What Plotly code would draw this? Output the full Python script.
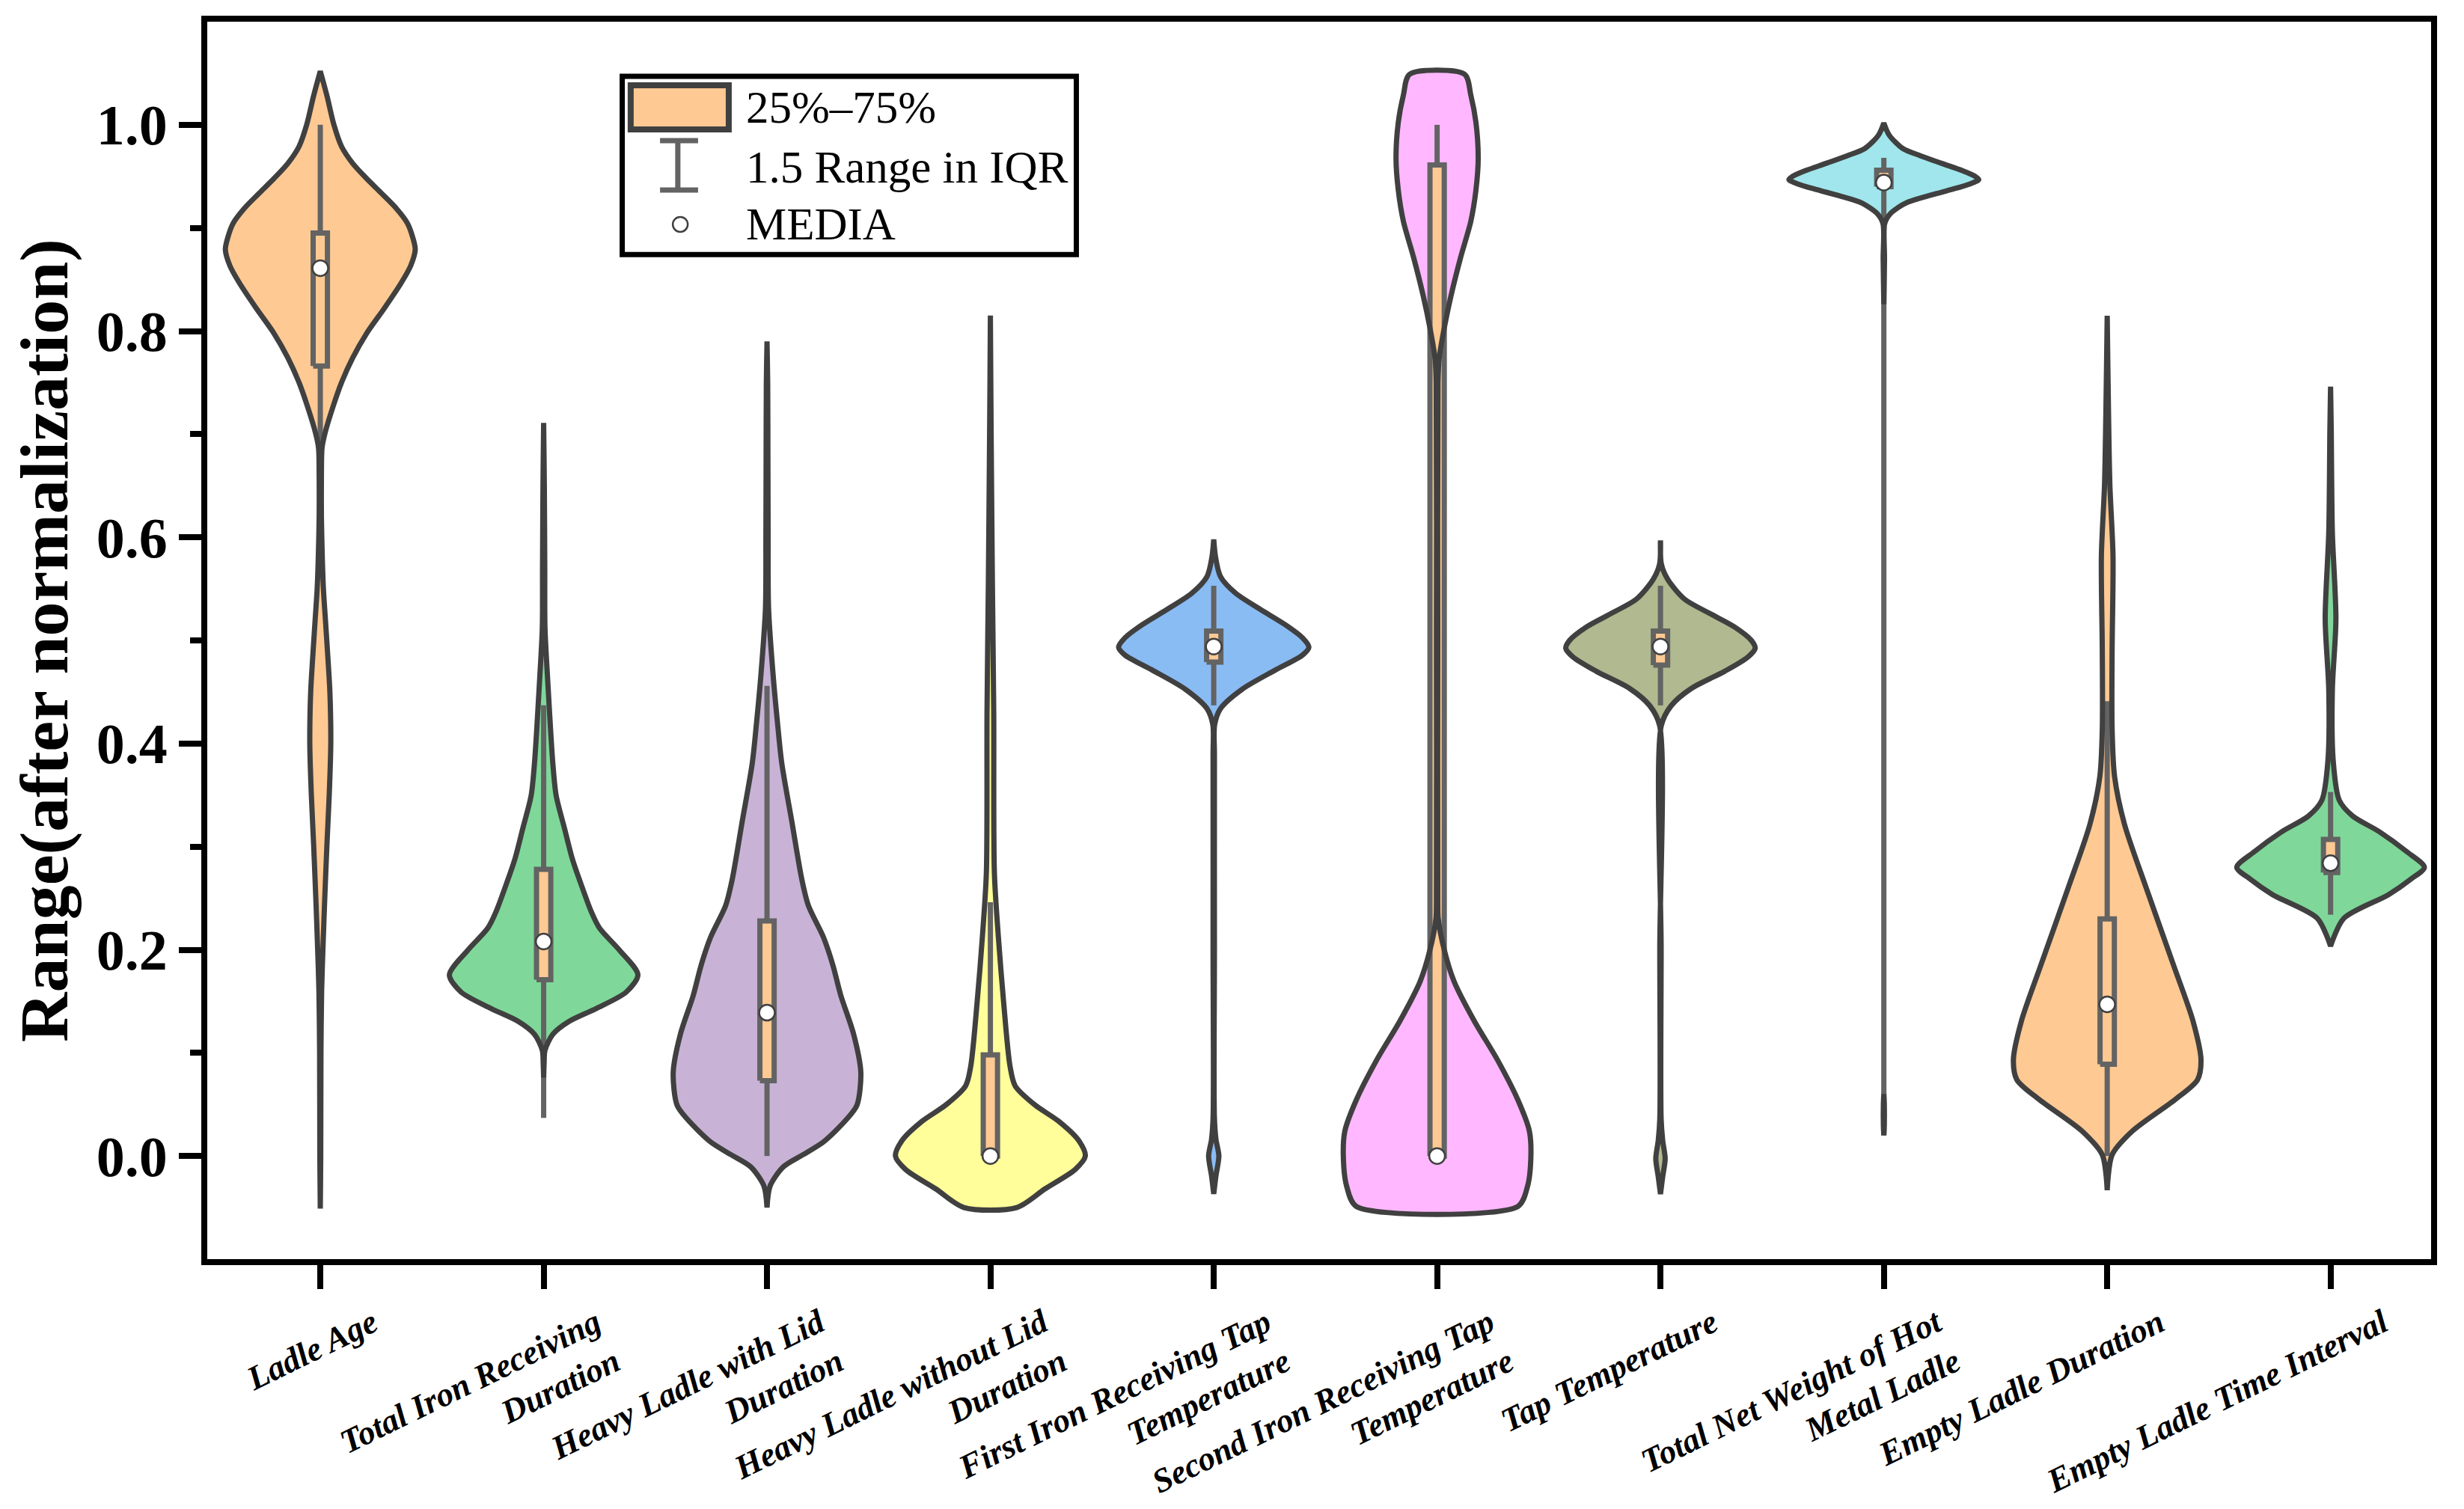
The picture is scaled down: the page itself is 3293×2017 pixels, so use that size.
import plotly.graph_objects as go

SERIF = "Liberation Serif, Times New Roman, serif"

CATEGORIES = [
    "Ladle Age",
    "Total Iron Receiving Duration",
    "Heavy Ladle with Lid Duration",
    "Heavy Ladle without Lid Duration",
    "First Iron Receiving Tap Temperature",
    "Second Iron Receiving Tap Temperature",
    "Tap Temperature",
    "Total Net Weight of Hot Metal Ladle",
    "Empty Ladle Duration",
    "Empty Ladle Time Interval",
]
TICK_TEXT = [
    "Ladle Age",
    "Total Iron Receiving<br>Duration",
    "Heavy Ladle with Lid<br>Duration",
    "Heavy Ladle without Lid<br>Duration",
    "First Iron Receiving Tap<br>Temperature",
    "Second Iron Receiving Tap<br>Temperature",
    "Tap Temperature",
    "Total Net Weight of Hot<br>Metal Ladle",
    "Empty Ladle Duration",
    "Empty Ladle Time Interval",
]
FILL_COLORS = ["#FFC993", "#7FD899", "#C8B3D6", "#FFFE9A", "#8ABCF4",
               "#FFB8FF", "#B0B98F", "#A0E6EC", "#FFC993", "#7FD899"]

# box statistics
LOWER_WHISKER = [0.575, 0.037, 0.0, 0.0, 0.437, 0.0, 0.437, 0.020, 0.0, 0.234]
Q1 = [0.766, 0.171, 0.073, 0.0, 0.479, 0.0, 0.476, 0.940, 0.089, 0.275]
MEDIAN = [0.861, 0.208, 0.139, 0.0, 0.494, 0.0, 0.494, 0.944, 0.147, 0.284]
Q3 = [0.895, 0.278, 0.228, 0.098, 0.509, 0.961, 0.509, 0.956, 0.230, 0.307]
UPPER_WHISKER = [1.0, 0.437, 0.456, 0.246, 0.553, 1.0, 0.553, 0.968, 0.441, 0.353]

# violin outlines: (value, half width in category units), top to bottom
LADLE_AGE = [(1.052, 0.0), (1.028, 0.03), (1.0, 0.061), (0.979, 0.095), (0.9626, 0.145),
             (0.948, 0.207), (0.9336, 0.274), (0.919, 0.34), (0.9046, 0.39), (0.89, 0.415),
             (0.879, 0.425), (0.8635, 0.405), (0.8466, 0.362), (0.8225, 0.288), (0.798, 0.208),
             (0.774, 0.145), (0.75, 0.095), (0.726, 0.056), (0.7017, 0.022), (0.687, 0.008),
             (0.66, 0.005), (0.62, 0.005), (0.58, 0.009), (0.55, 0.014), (0.52, 0.023),
             (0.48, 0.035), (0.45, 0.043), (0.40, 0.047), (0.35, 0.04), (0.303, 0.03),
             (0.25, 0.02), (0.208, 0.013), (0.16, 0.006), (0.1, 0.003), (0.0, 0.002),
             (-0.051, 0.0)]
TOTAL_IRON = [(0.711, 0.0), (0.65, 0.003), (0.57, 0.005), (0.512, 0.006), (0.462, 0.018),
              (0.381, 0.041), (0.3495, 0.056), (0.318, 0.093), (0.287, 0.13), (0.259, 0.175),
              (0.237, 0.213), (0.221, 0.25), (0.1995, 0.34), (0.1757, 0.422), (0.159, 0.37),
              (0.143, 0.235), (0.1307, 0.115), (0.118, 0.041), (0.1026, 0.006), (0.09, 0.002),
              (0.076, 0.0)]
HEAVY_WITH_LID = [(0.790, 0.0), (0.75, 0.003), (0.68, 0.004), (0.6, 0.005), (0.531, 0.007),
                  (0.462, 0.029), (0.42, 0.047), (0.381, 0.066), (0.3245, 0.111), (0.268, 0.156),
                  (0.243, 0.185), (0.212, 0.253), (0.185, 0.295), (0.156, 0.33), (0.118, 0.388),
                  (0.081, 0.42), (0.0495, 0.403), (0.036, 0.358), (0.0137, 0.253), (0.0015, 0.163),
                  (-0.0105, 0.073), (-0.029, 0.014), (-0.05, 0.0)]
HEAVY_WITHOUT_LID = [(0.815, 0.0), (0.712, 0.003), (0.556, 0.009), (0.431, 0.015), (0.2745, 0.018),
                     (0.212, 0.036), (0.15, 0.059), (0.087, 0.088), (0.068, 0.111), (0.0494, 0.2),
                     (0.0338, 0.305), (0.0151, 0.395), (0.0, 0.425), (-0.013, 0.38),
                     (-0.0318, 0.245), (-0.05, 0.118)]
FIRST_IRON_TAP = [(0.598, 0.0), (0.581, 0.008), (0.562, 0.03), (0.546, 0.097), (0.531, 0.202),
                  (0.515, 0.322), (0.5026, 0.397), (0.4934, 0.426), (0.4857, 0.397), (0.4714, 0.277),
                  (0.4526, 0.127), (0.4338, 0.03), (0.4182, 0.004), (0.389, 0.003), (0.2, 0.003),
                  (0.037, 0.003), (0.016, 0.01), (0.0, 0.023), (-0.019, 0.01), (-0.0368, 0.0)]
SECOND_IRON_TAP = [(1.049, 0.123), (1.0287, 0.151), (1.002, 0.174), (0.9676, 0.184), (0.937, 0.174),
                   (0.9065, 0.151), (0.872, 0.106), (0.834, 0.062), (0.803, 0.032), (0.773, 0.009),
                   (0.75, 0.004), (0.5, 0.003), (0.2457, 0.003), (0.2304, 0.005), (0.1999, 0.032),
                   (0.1693, 0.076), (0.1311, 0.166), (0.0929, 0.271), (0.0547, 0.361),
                   (0.0242, 0.413), (0.0012, 0.42), (-0.0293, 0.405), (-0.049, 0.361)]
TAP_TEMP = [(0.597, 0.0), (0.574, 0.004), (0.559, 0.033), (0.54, 0.108), (0.527, 0.213),
            (0.513, 0.332), (0.5, 0.407), (0.4924, 0.424), (0.484, 0.392), (0.47, 0.287),
            (0.4534, 0.138), (0.4367, 0.048), (0.4176, 0.004), (0.2, 0.003), (0.0356, 0.003),
            (0.015, 0.01), (-0.0026, 0.021), (-0.02, 0.01), (-0.037, 0.0)]
NET_WEIGHT = [(1.0018, 0.0), (0.99, 0.024), (0.977, 0.085), (0.97, 0.164), (0.9626, 0.259),
              (0.9554, 0.353), (0.95, 0.409), (0.9469, 0.425), (0.9428, 0.387), (0.937, 0.298),
              (0.931, 0.197), (0.924, 0.097), (0.914, 0.03), (0.9045, 0.004), (0.87, 0.003),
              (0.826, 0.0)]
NET_WEIGHT_TAIL = [(0.06, 0.0), (0.05, 0.002), (0.03, 0.002), (0.02, 0.0)]
EMPTY_DURATION = [(0.8148, 0.0), (0.7193, 0.006), (0.6505, 0.012), (0.5818, 0.026), (0.49, 0.022),
                  (0.4137, 0.022), (0.368, 0.033), (0.322, 0.077), (0.261, 0.173), (0.1845, 0.298),
                  (0.131, 0.384), (0.0929, 0.42), (0.0738, 0.404), (0.0547, 0.304),
                  (0.0242, 0.113), (0.0012, 0.022), (-0.0332, 0.0)]
EMPTY_INTERVAL = [(0.746, 0.0), (0.704, 0.003), (0.6047, 0.008), (0.5207, 0.024), (0.452, 0.008),
                  (0.383, 0.012), (0.345, 0.039), (0.3297, 0.099), (0.3144, 0.219), (0.2953, 0.34),
                  (0.28, 0.42), (0.2686, 0.36), (0.2534, 0.259), (0.2304, 0.059), (0.2036, 0.0)]

VIOLINS = [[LADLE_AGE], [TOTAL_IRON], [HEAVY_WITH_LID], [HEAVY_WITHOUT_LID], [FIRST_IRON_TAP],
           [SECOND_IRON_TAP], [TAP_TEMP], [NET_WEIGHT, NET_WEIGHT_TAIL], [EMPTY_DURATION],
           [EMPTY_INTERVAL]]

OUTLINE = "#404040"
BOX_LINE = "#636363"
BOX_FILL = "#FFC993"
BOX_HALF = 0.032  # half box width, category units


def violin_path(pos, profile):
    ys = [p[0] for p in profile]
    ws = [p[1] for p in profile]
    xs = [pos + w for w in ws] + [pos - w for w in reversed(ws)]
    yy = ys + ys[::-1]
    # close the path so flat (cut) ends get an outline too
    xs.append(xs[0])
    yy.append(yy[0])
    return xs, yy


fig = go.Figure()

# violin bodies
for i, pieces in enumerate(VIOLINS):
    for prof in pieces:
        xs, ys = violin_path(i, prof)
        fig.add_trace(go.Scatter(
            x=xs, y=ys, mode="lines", fill="toself", fillcolor=FILL_COLORS[i],
            line=dict(width=0, shape="spline", smoothing=0.8), hoverinfo="skip"
        ))

# whiskers and IQR boxes (scatter so they sit above the violin fills)
for i in range(len(CATEGORIES)):
    fig.add_trace(go.Scatter(
        x=[i, i, None, i, i],
        y=[LOWER_WHISKER[i], Q1[i], None, Q3[i], UPPER_WHISKER[i]],
        mode="lines", line=dict(color=BOX_LINE, width=7), hoverinfo="skip"
    ))
    fig.add_trace(go.Scatter(
        x=[i - BOX_HALF, i + BOX_HALF, i + BOX_HALF, i - BOX_HALF, i - BOX_HALF],
        y=[Q1[i], Q1[i], Q3[i], Q3[i], Q1[i]],
        mode="lines", fill="toself", fillcolor=BOX_FILL,
        line=dict(color=BOX_LINE, width=7), hoverinfo="skip"
    ))

# violin outlines on top
for i, pieces in enumerate(VIOLINS):
    for prof in pieces:
        xs, ys = violin_path(i, prof)
        fig.add_trace(go.Scatter(
            x=xs, y=ys, mode="lines",
            line=dict(color=OUTLINE, width=7, shape="spline", smoothing=0.8),
            hoverinfo="skip"
        ))

# medians
fig.add_trace(go.Scatter(
    x=list(range(len(CATEGORIES))), y=MEDIAN, mode="markers",
    marker=dict(size=21, color="white", line=dict(color=OUTLINE, width=2.5)),
    hoverinfo="skip"
))

# hand-made legend (paper coordinates)
legend_shapes = [
    dict(type="rect", xref="paper", yref="paper", x0=0.1866, x1=0.3908, y0=0.8118, y1=0.9559,
         line=dict(color="black", width=7), fillcolor="white", layer="above"),
    dict(type="rect", xref="paper", yref="paper", x0=0.1904, x1=0.2345, y0=0.9129, y1=0.9486,
         line=dict(color=OUTLINE, width=8), fillcolor=BOX_FILL, layer="above"),
    dict(type="line", xref="paper", yref="paper", x0=0.2116, x1=0.2116, y0=0.8640, y1=0.9039,
         line=dict(color=BOX_LINE, width=7), layer="above"),
    dict(type="line", xref="paper", yref="paper", x0=0.2036, x1=0.2207, y0=0.9039, y1=0.9039,
         line=dict(color=BOX_LINE, width=7), layer="above"),
    dict(type="line", xref="paper", yref="paper", x0=0.2036, x1=0.2207, y0=0.8640, y1=0.8640,
         line=dict(color=BOX_LINE, width=7), layer="above"),
    dict(type="circle", xref="paper", yref="paper", xsizemode="pixel", ysizemode="pixel",
         xanchor=0.2127, yanchor=0.8362, x0=-10, x1=10, y0=-10, y1=10,
         line=dict(color=OUTLINE, width=2.5), fillcolor="white", layer="above"),
]
legend_text = [("25%–75%", 0.9308), ("1.5 Range in IQR", 0.8827), ("MEDIA", 0.8362)]
annotations = [
    dict(text=t, xref="paper", yref="paper", x=0.2416, y=y, xanchor="left", yanchor="middle",
         showarrow=False, font=dict(family=SERIF, size=61, color="black"))
    for t, y in legend_text
]

# the page body has an 8px margin, so the figure is 16px smaller than the window
fig.update_layout(
    width=3277, height=2001,
    margin=dict(l=269, r=36, t=21, b=326, autoexpand=False),
    plot_bgcolor="white", paper_bgcolor="white",
    showlegend=False,
    font=dict(family=SERIF, color="black"),
    shapes=legend_shapes,
    annotations=annotations,
)
fig.update_xaxes(
    range=[-0.506, 9.45], tickmode="array", tickvals=list(range(len(CATEGORIES))),
    ticktext=TICK_TEXT, tickangle=-26, automargin=False,
    tickfont=dict(family=SERIF, size=45, weight="bold", style="italic", color="black"),
    ticklabelshift=70, ticklabelstandoff=2,
    ticks="outside", ticklen=32, tickwidth=8, tickcolor="black",
    showline=True, linewidth=8, linecolor="black", mirror=True,
    showgrid=False, zeroline=False,
)
fig.update_yaxes(
    range=[-0.1, 1.1], tickmode="array", tickvals=[0.0, 0.2, 0.4, 0.6, 0.8, 1.0],
    tickformat=".1f", automargin=False,
    tickfont=dict(family=SERIF, size=76, weight="bold", color="black"),
    ticks="outside", ticklen=30, tickwidth=8, tickcolor="black",
    minor=dict(tickmode="array", tickvals=[0.1, 0.3, 0.5, 0.7, 0.9],
               ticks="outside", ticklen=15, tickwidth=8, tickcolor="black", showgrid=False),
    showline=True, linewidth=8, linecolor="black", mirror=True,
    showgrid=False, zeroline=False,
    title=dict(text="Range(after normalization)", standoff=12,
               font=dict(family=SERIF, size=92, weight="bold", color="black")),
)

fig.write_html("out.html")
